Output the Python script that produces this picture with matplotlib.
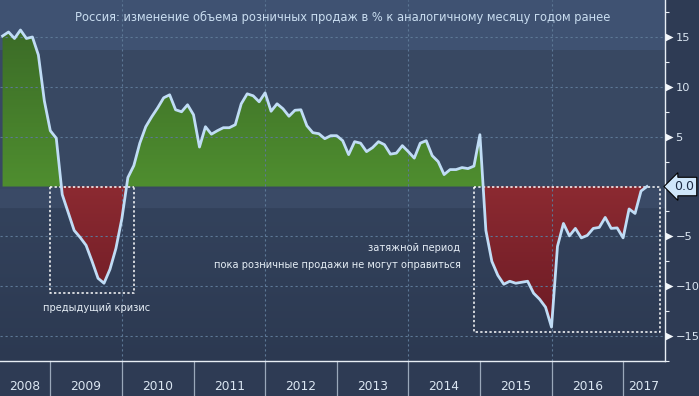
import numpy as np
import pandas as pd
import matplotlib
matplotlib.use('Agg')
import matplotlib.pyplot as plt
from matplotlib.colors import to_rgb, LinearSegmentedColormap
from matplotlib.patches import PathPatch
from matplotlib.path import Path
import matplotlib.transforms as mtransforms

# monthly data, Apr 2008 - Apr 2017 (% y/y)
months = pd.date_range('2008-04-01', '2017-04-01', freq='MS')
values = [
    15.1, 15.5, 14.85, 15.7, 14.85, 15.0, 13.2, 8.6, 5.6,
    4.85, -0.8, -2.6, -4.4, -5.1, -5.9, -7.5, -9.2, -9.7, -8.3, -6.2, -3.2,
    0.9, 2.1, 4.35, 6.0, 7.0, 7.9, 8.9, 9.2, 7.7, 7.5, 8.2, 7.2,
    3.96, 6.0, 5.25, 5.6, 5.9, 5.9, 6.2, 8.3, 9.3, 9.1, 8.5, 9.4,
    7.55, 8.3, 7.8, 7.05, 7.65, 7.7, 6.1, 5.4, 5.3, 4.8, 5.1, 5.1,
    4.6, 3.2, 4.5, 4.35, 3.5, 3.9, 4.5, 4.2, 3.25, 3.35, 4.1, 3.5,
    2.85, 4.35, 4.6, 3.1, 2.5, 1.2, 1.7, 1.7, 1.9, 1.8, 2.05, 5.2,
    -4.4, -7.5, -8.9, -9.8, -9.5, -9.7, -9.6, -9.5, -10.7, -11.3, -12.1, -14.1,
    -6.0, -3.7, -4.95, -4.2, -5.15, -4.9, -4.2, -4.1, -3.1, -4.2, -4.15, -5.15,
    -2.25, -2.7, -0.45, 0.0,
]
years = list(range(2008, 2018))
y_major = [-15, -10, -5, 5, 10, 15]
grid_years = [2010, 2012, 2014, 2016]

title = 'Россия: изменение объема розничных продаж в % к аналогичному месяцу годом ранее'
note_crisis = 'предыдущий кризис'
note_long = ['затяжной период', 'пока розничные продажи не могут оправиться']

# point plotted at end of its month
x = np.array([d.year + d.month / 12 for d in months])
v = np.array(values)

W, H = 699, 396
fig = plt.figure(figsize=(W / 100, H / 100), dpi=100, facecolor='#2e3b54')
ax = fig.add_axes([0, 35 / H, 665 / W, 361 / H])
xlim = (2008.2975, 2017.585)
ylim = (-17.03, 18.71)
ax.set_xlim(*xlim)
ax.set_ylim(*ylim)

# background with horizontal bands
rows = []
for py in range(361):
    if py < 50:
        c = to_rgb('#3f5272')
    elif py < 189:
        c = to_rgb('#384862')
    elif py < 208:
        c = to_rgb('#3a4a66')
    else:
        t = (py - 208) / (361 - 208)
        a, b = np.array(to_rgb('#33425c')), np.array(to_rgb('#2c3951'))
        c = a + (b - a) * t
    rows.append(c)
bg = np.array(rows)[:, None, :]
ax.imshow(bg, extent=[0, 1, 0, 1], transform=ax.transAxes, aspect='auto', zorder=0)


def gradient_fill(mask, top_col, bot_col, y0, y1):
    poly = ax.fill_between(x, v, 0, where=mask, interpolate=True,
                           facecolor='none', edgecolor='none')
    path = Path.make_compound_path(*poly.get_paths())
    patch = PathPatch(path, transform=ax.transData, fc='none', ec='none')
    ax.add_patch(patch)
    cmap = LinearSegmentedColormap.from_list('g', [top_col, bot_col])
    grad = np.linspace(0, 1, 256)[:, None]
    im = ax.imshow(grad, cmap=cmap, extent=[xlim[0], xlim[1], y0, y1],
                   aspect='auto', origin='upper', zorder=1)
    im.set_clip_path(patch)


gradient_fill(v >= 0, '#3b6b27', '#4f8e2f', 0, 16)
gradient_fill(v <= 0, '#8c2a31', '#6a1a24', -15, 0)

# dashed grid on top of the fills
for g in y_major:
    ax.axhline(g, color='#5d7896', lw=0.8, ls=(0, (2, 2.5)), zorder=2)
for gy in grid_years:
    ax.axvline(gy, color='#5d7896', lw=0.8, ls=(0, (2, 2.5)), zorder=2)

ax.plot(x, v, color='#c0dcf5', lw=2.0, zorder=4, solid_joinstyle='round')

# dotted boxes
box_kw = dict(color='white', lw=1.1, ls=(0, (1.5, 1.5)), zorder=3)
ax.plot([2009.0, 2009.0, 2010.17, 2010.17], [0, -10.7, -10.7, 0], **box_kw)
ax.plot([2009.0, 2010.17], [0, 0], **box_kw)
ax.plot([2014.92, 2014.92, 2017.51, 2017.51, 2014.92], [0, -14.6, -14.6, 0, 0], **box_kw)

ax.text(2009.65, -12.2, note_crisis, color='#e6eef6', fontsize=7.1,
        ha='center', va='center', zorder=5)
ax.text(2014.73, -6.15, note_long[0], color='#e6eef6', fontsize=7.1,
        ha='right', va='center', zorder=5)
ax.text(2014.73, -7.85, note_long[1], color='#e6eef6', fontsize=7.1,
        ha='right', va='center', zorder=5)

# spines
for s in ['top', 'left']:
    ax.spines[s].set_visible(False)
ax.spines['right'].set_color('#e8eef5')
ax.spines['bottom'].set_color('#e8eef5')
ax.spines['right'].set_linewidth(1.0)
ax.spines['bottom'].set_linewidth(1.0)

# right axis
ax.yaxis.tick_right()
ax.set_yticks(y_major)
ax.set_yticklabels([str(t).replace('-', '\u2212') for t in y_major])
ax.set_yticks([-17.5, -12.5, -7.5, -2.5, 2.5, 7.5, 12.5, 17.5], minor=True)
ax.tick_params(axis='y', which='major', length=0, pad=7.5, labelsize=8.2,
               labelcolor='#dbe6f2')
ax.tick_params(axis='y', which='minor', length=3, width=0.8, color='#e8eef5',
               direction='out')
base_tr = mtransforms.blended_transform_factory(ax.transAxes, ax.transData)
tri_tr = base_tr + mtransforms.ScaledTranslation(3.5 / 100, 0, fig.dpi_scale_trans)
ax.plot([1.0] * len(y_major), y_major, ls='none', marker='>', ms=5.2,
        color='#f2f6fa', mec='none', transform=tri_tr, clip_on=False, zorder=6)

ax.text(1.0, 0, '0.0', transform=base_tr + mtransforms.ScaledTranslation(9 / 100, 0, fig.dpi_scale_trans),
        ha='left', va='center', fontsize=9, color='#1c2a42', clip_on=False, zorder=7,
        bbox=dict(boxstyle='larrow,pad=0.22', fc='#cfe6fa', ec='black', lw=0.8))

# bottom axis: year labels and separators
ax.set_xticks([])
sep_tr = mtransforms.blended_transform_factory(ax.transData, ax.transAxes)
for yr in years:
    lo = max(yr, xlim[0])
    hi = min(yr + 1, xlim[1])
    ax.text((lo + hi) / 2, -26 / 361, str(yr), transform=sep_tr, ha='center',
            va='center', fontsize=8.8, color='#dbe6f2', clip_on=False)
    if yr > years[0]:
        ax.plot([yr, yr], [0, -35 / 361], transform=sep_tr, color='#9aa8ba',
                lw=0.9, clip_on=False)

fig.text(343 / W, 1 - 17 / H, title, ha='center', va='center', fontsize=8.3,
         color='#c9ddf0')

fig.savefig('out.png', dpi=100, facecolor=fig.get_facecolor())
